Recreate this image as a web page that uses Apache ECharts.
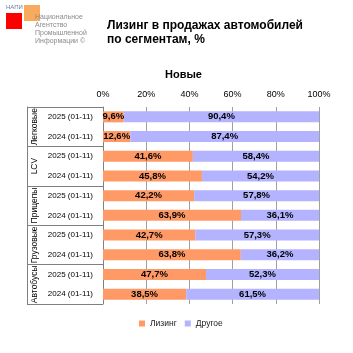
<!DOCTYPE html>
<html>
<head>
<meta charset="utf-8">
<script src="https://cdn.jsdelivr.net/npm/echarts@6/dist/echarts.min.js"></script>
<style>
  html, body { margin: 0; padding: 0; background: #fff; }
  #chart { width: 353px; height: 353px; }
</style>
</head>
<body>
<div id="chart"></div>
<script>
const groups = ["Легковые", "LCV", "Прицепы", "Грузовые", "Автобусы"];
const periods = [
  "2025 (01-11)", "2024 (01-11)",
  "2025 (01-11)", "2024 (01-11)",
  "2025 (01-11)", "2024 (01-11)",
  "2025 (01-11)", "2024 (01-11)",
  "2025 (01-11)", "2024 (01-11)",
];
const leasing = [9.6, 12.6, 41.6, 45.8, 42.2, 63.9, 42.7, 63.8, 47.7, 38.5];
const other = [90.4, 87.4, 58.4, 54.2, 57.8, 36.1, 57.3, 36.2, 52.3, 61.5];
const xTicks = [0, 20, 40, 60, 80, 100];

const FONT = "Liberation Sans, Arial, sans-serif";
const fmtPct = (v) => String(v).replace(".", ",") + "%";

const chart = echarts.init(document.getElementById("chart"), null, { renderer: "canvas" });

const labelStyle = {
  show: true,
  position: "inside",
  color: "#000",
  fontFamily: FONT,
  fontWeight: "bold",
  fontSize: 9.5,
  formatter: (p) => fmtPct(p.value),
};

chart.setOption({
  animation: false,
  textStyle: { fontFamily: FONT },
  title: [
    {
      text: "Лизинг в продажах автомобилей\nпо сегментам, %",
      left: 102,
      top: 14,
      textStyle: { fontSize: 12, fontWeight: "bold", color: "#000", lineHeight: 14, fontFamily: FONT },
    },
    {
      text: "Новые",
      left: 160,
      top: 64,
      textStyle: { fontSize: 11, fontWeight: "bold", color: "#000", fontFamily: FONT },
    },
  ],
  graphic: [
    { type: "rect", shape: { x: 6, y: 13, width: 16, height: 16 }, style: { fill: "#ff0000" } },
    { type: "rect", shape: { x: 24, y: 5, width: 16, height: 16 }, style: { fill: "#f7a24a", opacity: 0.9 } },
    { type: "text", x: 6, y: 4, style: { text: "НАПИ", fontSize: 6, fill: "#6a7a9a", fontFamily: FONT } },
    {
      type: "text", x: 35, y: 13,
      style: {
        text: "Национальное\nАгентство\nПромышленной\nИнформации ©",
        fontSize: 7, lineHeight: 8, fill: "#8a8a8a", fontFamily: FONT,
      },
    },
  ],
  legend: {
    top: 314,
    left: 134,
    icon: "rect",
    itemWidth: 6,
    itemHeight: 6,
    itemGap: 8,
    itemStyle: { borderWidth: 0 },
    textStyle: { fontSize: 8.5, color: "#222", fontFamily: FONT },
    data: ["Лизинг", "Другое"],
  },
  grid: { left: 103, right: 34, top: 107, bottom: 49 },
  xAxis: {
    type: "value",
    position: "top",
    min: xTicks[0],
    max: xTicks[xTicks.length - 1],
    interval: 20,
    axisLine: { show: false },
    axisTick: { show: false },
    axisLabel: { color: "#000", fontSize: 9, margin: 8, formatter: "{value}%" },
    splitLine: { lineStyle: { color: "#a0a0a0", width: 1 } },
  },
  yAxis: [
    {
      type: "category",
      inverse: true,
      data: periods,
      axisLine: { show: true, lineStyle: { color: "#808080" } },
      axisTick: { show: false },
      axisLabel: { color: "#000", fontSize: 8, margin: 10 },
    },
    {
      type: "category",
      inverse: true,
      position: "left",
      offset: 76,
      data: groups,
      axisLine: { show: true, lineStyle: { color: "#808080" } },
      axisTick: { show: true, inside: true, length: 76, lineStyle: { color: "#808080" } },
      axisLabel: { inside: true, rotate: 90, interval: 0, margin: 3, color: "#000", fontSize: 8.5 },
    },
  ],
  series: [
    {
      name: "Лизинг",
      type: "bar",
      stack: "total",
      barWidth: 11,
      itemStyle: { color: "#ff9966" },
      label: labelStyle,
      data: leasing,
    },
    {
      name: "Другое",
      type: "bar",
      stack: "total",
      barWidth: 11,
      itemStyle: { color: "#b3b3ff" },
      label: labelStyle,
      data: other,
    },
  ],
});
</script>
</body>
</html>
